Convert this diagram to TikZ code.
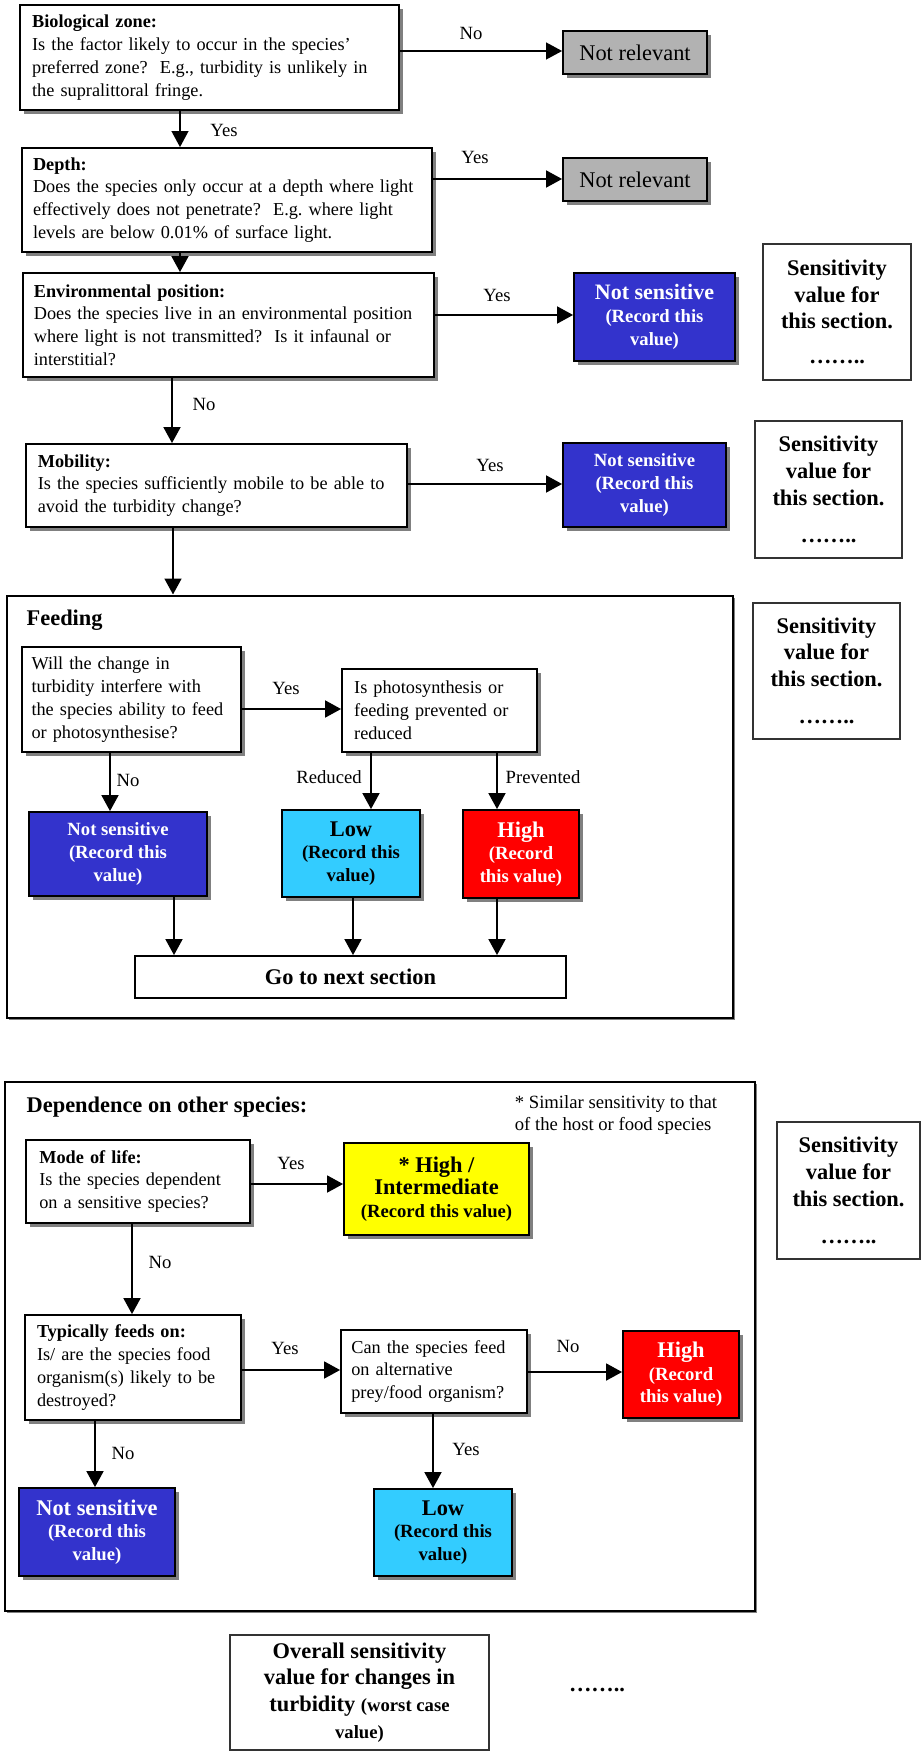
\documentclass[tikz,border=0pt]{standalone}
\usepackage{fontspec}
\setmainfont{Liberation Serif}
\usetikzlibrary{arrows.meta,shadows}

\definecolor{greybox}{HTML}{B2B2B2}
\definecolor{notsens}{HTML}{3333CC}
\definecolor{lowsens}{HTML}{33CCFF}
\definecolor{highsens}{HTML}{FF0000}
\definecolor{hiint}{HTML}{FFFF00}
\definecolor{shadegrey}{HTML}{808080}

\newcommand{\fsz}[2]{\fontsize{#1}{#2}\selectfont}

\begin{document}
\frenchspacing
\begin{tikzpicture}[x=0.75pt,y=-0.75pt,
  every node/.style={font=\fsz{14}{16.6}},
  % a box given by its corners (x1,y1) and (x2,y2), in picture units
  rect/.style n args={4}{anchor=center,at={({(#1+#3)/2},{(#2+#4)/2})},
    minimum width={(#3-#1)*0.75pt},minimum height={(#4-#2)*0.75pt}},
  boxshadow/.style={drop shadow={shadow xshift=3pt,shadow yshift=-3pt,fill=shadegrey,opacity=1}},
  qbox/.style={draw,line width=1.3pt,fill=white,inner sep=0pt,align=left,font=\fsz{13.7}{17.1},boxshadow},
  valbox/.style={draw,line width=1.3pt,inner sep=0pt,align=center,font=\bfseries\fsz{14}{17},boxshadow},
  nrbox/.style={draw,line width=1.3pt,fill=greybox,inner sep=0pt,font=\fsz{16.8}{20},boxshadow},
  sensbox/.style={draw=black!80,line width=0.9pt,fill=white,inner sep=0pt,align=center,font=\bfseries\fsz{16.8}{20}},
  frame/.style={draw,line width=2.2pt,fill=white,inner sep=0pt,drop shadow={shadow xshift=1.5pt,shadow yshift=-1.5pt,fill=shadegrey,opacity=1}},
  arr/.style={line width=2pt,-{Triangle[length=12pt,width=12.5pt]}},
  thinarr/.style={line width=1.5pt,-{Triangle[length=12pt,width=12.5pt]}},
  lbl/.style={inner sep=1pt},
  big/.style={font=\bfseries\fsz{16.8}{20}},
]
\useasboundingbox (0,0) rectangle (921,1751);

% column and row guides for the connectors
\coordinate (xbio) at (180,0);
\coordinate (xenv) at (172,0);
\coordinate (xmob) at (173,0);
\coordinate (xfno) at (110,0);
\coordinate (xred) at (371,0);
\coordinate (xprev) at (497,0);
\coordinate (xns) at (174,0);
\coordinate (xlow) at (353,0);
\coordinate (xmode) at (132,0);
\coordinate (xtyp) at (95,0);
\coordinate (xcan) at (433,0);
\coordinate (ybio) at (0,51);
\coordinate (ydep) at (0,179);
\coordinate (yenv) at (0,315);
\coordinate (ymob) at (0,484);
\coordinate (yq) at (0,709);
\coordinate (ymode) at (0,1184);
\coordinate (ytyp) at (0,1370);
\coordinate (ycan) at (0,1372);

% ---- section frames
\node[frame,rect={7}{596}{733}{1018}] (feed) {};
\node[frame,rect={5}{1082}{755}{1611}] (dep) {};

% ---- top questions
\node[qbox,rect={20}{5}{399}{110},text width=266pt] (bio)
  {\textbf{Biological zone:}\\Is the factor likely to occur in the species’\\preferred zone?~ E.g., turbidity is unlikely in\\the supralittoral fringe.};
\node[nrbox,rect={563}{31}{707}{74}] (nr1) {Not relevant};
\node[qbox,rect={22}{148}{432}{252},text width=291pt] (depth)
  {\textbf{Depth:}\\Does the species only occur at a depth where light\\effectively does not penetrate?~ E.g. where light\\levels are below 0.01\% of surface light.};
\node[nrbox,rect={563}{158}{707}{201}] (nr2) {Not relevant};
\node[qbox,rect={23}{273}{434}{377},text width=292pt] (env)
  {\textbf{Environmental position:}\\Does the species live in an environmental position\\where light is not transmitted?~ Is it infaunal or\\interstitial?};
\node[valbox,fill=notsens,text=white,rect={574}{273}{735}{361}] (ns1)
  {{\fsz{16.5}{20}Not sensitive}\\(Record this\\value)};
\node[sensbox,rect={763}{244}{911}{380}] (sv1) {Sensitivity\\value for\\this section.\\[6pt]……..};
\node[qbox,rect={26}{444}{407}{527},text width=268pt] (mob)
  {\textbf{Mobility:}\\Is the species sufficiently mobile to be able to\\avoid the turbidity change?};
\node[valbox,fill=notsens,text=white,rect={563}{443}{726}{527}] (ns2)
  {Not sensitive\\(Record this\\value)};
\node[sensbox,rect={755}{421}{902}{558}] (sv2) {Sensitivity\\value for\\this section.\\[8pt]……..};

% ---- feeding
\node[anchor=west,big] (feedt) at (22,620) {Feeding};
\node[qbox,rect={22}{647}{241}{752},text width=150pt] (fq1)
  {Will the change in\\turbidity interfere with\\the species ability to feed\\or photosynthesise?};
\node[qbox,rect={342}{669}{537}{752},text width=128pt] (fq2)
  {Is photosynthesis or\\feeding prevented or\\reduced};
\node[valbox,fill=notsens,text=white,rect={29}{812}{207}{896}] (fns)
  {Not sensitive\\(Record this\\value)};
\node[valbox,fill=lowsens,rect={282}{810}{420}{897}] (flow)
  {{\fsz{16.8}{20}Low}\\(Record this\\value)};
\node[valbox,fill=highsens,text=white,rect={463}{810}{579}{898}] (fhigh)
  {{\fsz{16.8}{20}High}\\(Record\\this value)};
\node[draw,line width=1.3pt,fill=white,inner sep=0pt,big,rect={135}{956}{566}{998}] (next)
  {Go to next section};
\node[sensbox,rect={753}{603}{900}{739}] (sv3) {Sensitivity\\value for\\this section.\\[8pt]……..};

% ---- dependence on other species
\node[anchor=west,big] (dept) at (22,1107) {Dependence on other species:};
\node[align=left] (note) at (616,1115) {* Similar sensitivity to that\\of the host or food species};
\node[qbox,rect={26}{1140}{250}{1223},text width=148pt] (mode)
  {\textbf{Mode of life:}\\Is the species dependent\\on a sensitive species?};
\node[valbox,fill=hiint,rect={344}{1143}{529}{1235}] (hi)
  {{\fsz{16.8}{20}* High /}\\{\fsz{16.8}{20}Intermediate}\\(Record this value)};
\node[sensbox,rect={777}{1122}{920}{1259}] (sv4) {Sensitivity\\value for\\this section.\\[8pt]……..};
\node[qbox,rect={25}{1315}{241}{1420},text width=144pt] (typ)
  {\textbf{Typically feeds on:}\\Is/ are the species food\\organism(s) likely to be\\destroyed?};
\node[qbox,rect={341}{1330}{527}{1413},text width=124pt] (can)
  {Can the species feed\\on alternative\\prey/food organism?};
\node[valbox,fill=highsens,text=white,rect={623}{1331}{739}{1418}] (dhigh)
  {{\fsz{16.8}{20}High}\\(Record\\this value)};
\node[valbox,fill=notsens,text=white,rect={19}{1488}{175}{1576}] (dns)
  {{\fsz{16.8}{20}Not sensitive}\\(Record this\\value)};
\node[valbox,fill=lowsens,rect={374}{1489}{512}{1576}] (dlow)
  {{\fsz{16.8}{20}Low}\\(Record this\\value)};

% ---- overall value
\node[sensbox,rect={230}{1635}{489}{1750}] (overall)
  {Overall sensitivity\\value for changes in\\turbidity {\fsz{14}{20}(worst case}\\{\fsz{14}{20}value)}};
\node[big] (dots) at (597,1690) {……..};

% ---- connectors
\draw[thinarr] (bio.east |- ybio) -- (nr1.west |- ybio);
\draw[thinarr] (bio.south -| xbio) -- (depth.north -| xbio);
\draw[arr] (depth.east |- ydep) -- (nr2.west |- ydep);
\draw[arr] (depth.south -| xbio) -- (env.north -| xbio);
\draw[arr] (env.east |- yenv) -- (ns1.west |- yenv);
\draw[arr] (env.south -| xenv) -- (mob.north -| xenv);
\draw[arr] (mob.east |- ymob) -- (ns2.west |- ymob);
\draw[arr] (mob.south -| xmob) -- (feed.north -| xmob);

\draw[arr] (fq1.east |- yq) -- (fq2.west |- yq);
\draw[arr] (fq1.south -| xfno) -- (fns.north -| xfno);
\draw[arr] (fq2.south -| xred) -- (flow.north -| xred);
\draw[arr] (fq2.south -| xprev) -- (fhigh.north -| xprev);
\draw[arr] (fns.south -| xns) -- (next.north -| xns);
\draw[arr] (flow.south -| xlow) -- (next.north -| xlow);
\draw[arr] (fhigh.south -| xprev) -- (next.north -| xprev);

\draw[arr] (mode.east |- ymode) -- (hi.west |- ymode);
\draw[arr] (mode.south -| xmode) -- (typ.north -| xmode);
\draw[arr] (typ.east |- ytyp) -- (can.west |- ytyp);
\draw[arr] (can.east |- ycan) -- (dhigh.west |- ycan);
\draw[arr] (typ.south -| xtyp) -- (dns.north -| xtyp);
\draw[arr] (can.south -| xcan) -- (dlow.north -| xcan);

% ---- connector labels
\node[lbl] (lno1) at (471,33) {No};
\node[lbl] (lyes1) at (224,130) {Yes};
\node[lbl] (lyes2) at (475,157) {Yes};
\node[lbl] (lyes3) at (497,295) {Yes};
\node[lbl] (lno2) at (204,404) {No};
\node[lbl] (lyes4) at (490,465) {Yes};
\node[lbl] (lyes5) at (286,688) {Yes};
\node[lbl] (lno3) at (128,780) {No};
\node[lbl] (lred) at (329,777) {Reduced};
\node[lbl] (lprev) at (543,777) {Prevented};
\node[lbl] (lyes6) at (291,1163) {Yes};
\node[lbl] (lno4) at (160,1262) {No};
\node[lbl] (lyes7) at (285,1348) {Yes};
\node[lbl] (lno5) at (568,1346) {No};
\node[lbl] (lno6) at (123,1453) {No};
\node[lbl] (lyes8) at (466,1449) {Yes};
\end{tikzpicture}
\end{document}
